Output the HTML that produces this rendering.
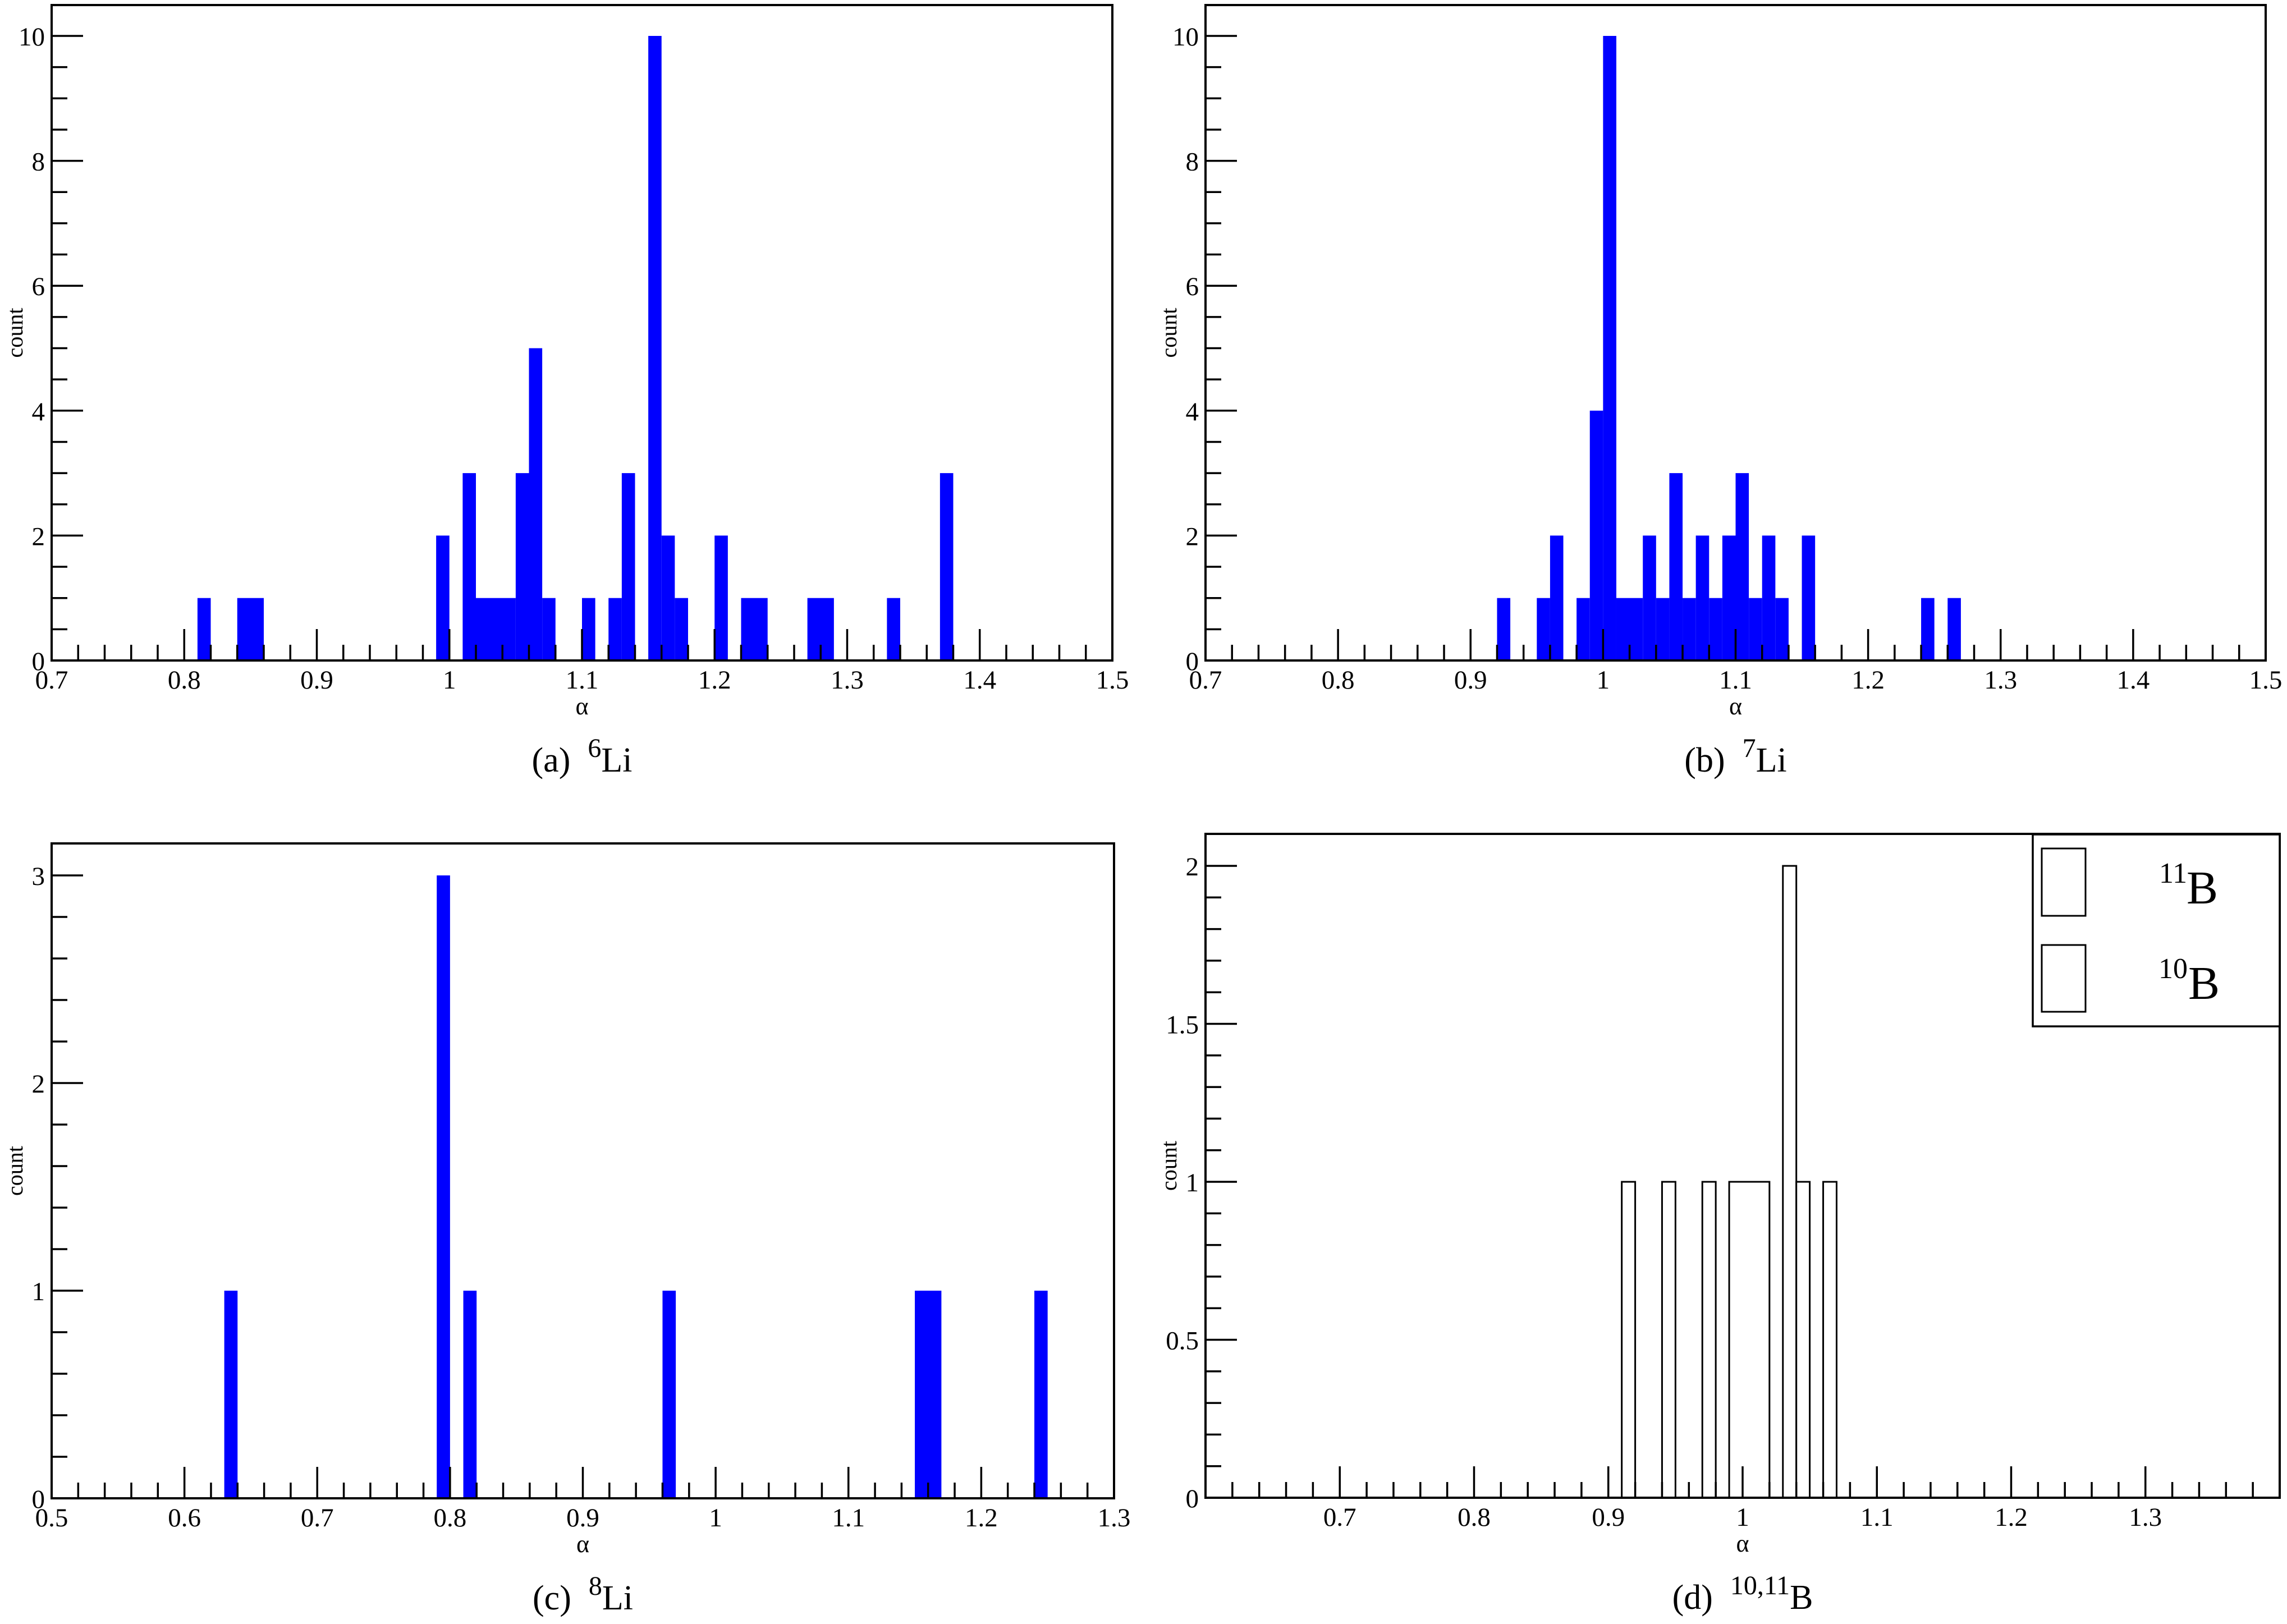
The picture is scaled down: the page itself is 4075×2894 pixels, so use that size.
<!DOCTYPE html>
<html><head><meta charset="utf-8">
<style>
html,body{margin:0;padding:0;background:#fff;}
svg{display:block;}
text{font-family:"Liberation Serif",serif;fill:#000;}
</style></head>
<body>
<svg id="s" xmlns="http://www.w3.org/2000/svg" width="4075" height="2894" viewBox="0 0 4075 2894">
<rect width="4075" height="2894" fill="#fff"/>
</svg>
<script>
const S=document.getElementById('s');
const NS='http://www.w3.org/2000/svg';
function el(t,a,txt){const e=document.createElementNS(NS,t);for(const k in a)e.setAttribute(k,a[k]);if(txt!==undefined)e.textContent=txt;S.appendChild(e);return e;}
function panel(p){
  const {L,R,T,B,x0,x1,unit,xlabels,ymaj,yminStep,ymax,bars,fill,cap,capSup,capRest}=p;
  const X=v=>L+(v-x0)/(x1-x0)*(R-L);
  const Y=v=>B-v*unit;
  bars.forEach(b=>{
    const [a,c,h]=b;
    if(fill) el('rect',{x:X(a),y:Y(h),width:X(c)-X(a),height:B-Y(h),fill:'#0000ff'});
    else el('rect',{x:X(a),y:Y(h),width:X(c)-X(a),height:B-Y(h),fill:'#fff',stroke:'#000','stroke-width':3});
  });
  el('rect',{x:L,y:T,width:R-L,height:B-T,fill:'none',stroke:'#000','stroke-width':4});
  const n=Math.round((x1-x0)/0.02);
  for(let i=0;i<=n;i++){
    const v=x0+i*0.02; const xp=X(v);
    const major=(i%5===0);
    el('line',{x1:xp,y1:B,x2:xp,y2:B-(major?56:28),stroke:'#000','stroke-width':3.5});
  }
  xlabels.forEach(v=>{
    el('text',{x:X(v),y:B+50,'font-size':47,'text-anchor':'middle'},String(+v.toFixed(1)));
  });
  const m=Math.floor(ymax/yminStep+1e-6);
  for(let i=0;i<=m;i++){
    const v=i*yminStep; const yp=Y(v);
    const major=Math.abs(v/ymaj-Math.round(v/ymaj))<1e-6;
    el('line',{x1:L,y1:yp,x2:L+(major?56:28),y2:yp,stroke:'#000','stroke-width':3.5});
    if(major) el('text',{x:L-12,y:yp+17,'font-size':47,'text-anchor':'end'},String(+v.toFixed(1)));
  }
  el('text',{x:(L+R)/2,y:B+96,'font-size':44,'text-anchor':'middle'},'α');
  const cy=(T+B)/2, cx=L-52;
  el('text',{x:cx,y:cy,'font-size':40,'text-anchor':'middle',transform:`rotate(-90 ${cx} ${cy})`},'count');
  const t=el('text',{x:(L+R)/2,y:B+198,'font-size':62,'text-anchor':'middle'});
  const a1=document.createElementNS(NS,'tspan');a1.textContent=cap+'\u00a0\u00a0';t.appendChild(a1);
  const a2=document.createElementNS(NS,'tspan');a2.setAttribute('dy',-26);a2.setAttribute('font-size',48);a2.textContent=capSup;t.appendChild(a2);
  const a3=document.createElementNS(NS,'tspan');a3.setAttribute('dy',26);a3.textContent=capRest;t.appendChild(a3);
}
function bins(list){return list.map(([a,h,w])=>[a,a+(w||0.01),h]);}
panel({L:92,R:1982,T:9,B:1177,x0:0.7,x1:1.5,unit:111.3,
 xlabels:[0.7,0.8,0.9,1.0,1.1,1.2,1.3,1.4,1.5],ymaj:2,yminStep:0.5,ymax:10.4,fill:true,
 bars:bins([[0.81,1],[0.84,1,0.02],[0.99,2],[1.01,3],[1.02,1,0.03],[1.05,3],[1.06,5],[1.07,1],[1.10,1],[1.12,1],[1.13,3],[1.15,10],[1.16,2],[1.17,1],[1.20,2],[1.22,1,0.02],[1.27,1,0.02],[1.33,1],[1.37,3]]),
 cap:'(a)',capSup:'6',capRest:'Li'});
panel({L:2148,R:4037,T:9,B:1177,x0:0.7,x1:1.5,unit:111.3,
 xlabels:[0.7,0.8,0.9,1.0,1.1,1.2,1.3,1.4,1.5],ymaj:2,yminStep:0.5,ymax:10.4,fill:true,
 bars:bins([[0.92,1],[0.95,1],[0.96,2],[0.98,1],[0.99,4],[1.00,10],[1.01,1,0.02],[1.03,2],[1.04,1],[1.05,3],[1.06,1],[1.07,2],[1.08,1],[1.09,2],[1.10,3],[1.11,1],[1.12,2],[1.13,1],[1.15,2],[1.24,1],[1.26,1]]),
 cap:'(b)',capSup:'7',capRest:'Li'});
panel({L:92,R:1985,T:1503,B:2670,x0:0.5,x1:1.3,unit:370,
 xlabels:[0.5,0.6,0.7,0.8,0.9,1.0,1.1,1.2,1.3],ymaj:1,yminStep:0.2,ymax:3.1,fill:true,
 bars:bins([[0.63,1],[0.79,3],[0.81,1],[0.96,1],[1.15,1,0.02],[1.24,1]]),
 cap:'(c)',capSup:'8',capRest:'Li'});
panel({L:2148,R:4062,T:1486,B:2669,x0:0.6,x1:1.4,unit:563,
 xlabels:[0.7,0.8,0.9,1.0,1.1,1.2,1.3],ymaj:0.5,yminStep:0.1,ymax:2.05,fill:false,
 bars:bins([[0.91,1],[0.94,1],[0.97,1],[0.99,1,0.03],[1.03,2],[1.04,1],[1.06,1]]),
 cap:'(d)',capSup:'10,11',capRest:'B'});
el('rect',{x:3622,y:1487,width:440,height:342,fill:'#fff',stroke:'#000','stroke-width':3.5});
el('rect',{x:3638,y:1512,width:78,height:120,fill:'#fff',stroke:'#000','stroke-width':3});
el('rect',{x:3638,y:1684,width:78,height:119,fill:'#fff',stroke:'#000','stroke-width':3});
el('text',{x:3847,y:1573,'font-size':52},'11');
el('text',{x:3896,y:1610,'font-size':84},'B');
el('text',{x:3846,y:1743,'font-size':52},'10');
el('text',{x:3899,y:1780,'font-size':84},'B');
</script>
</body></html>
